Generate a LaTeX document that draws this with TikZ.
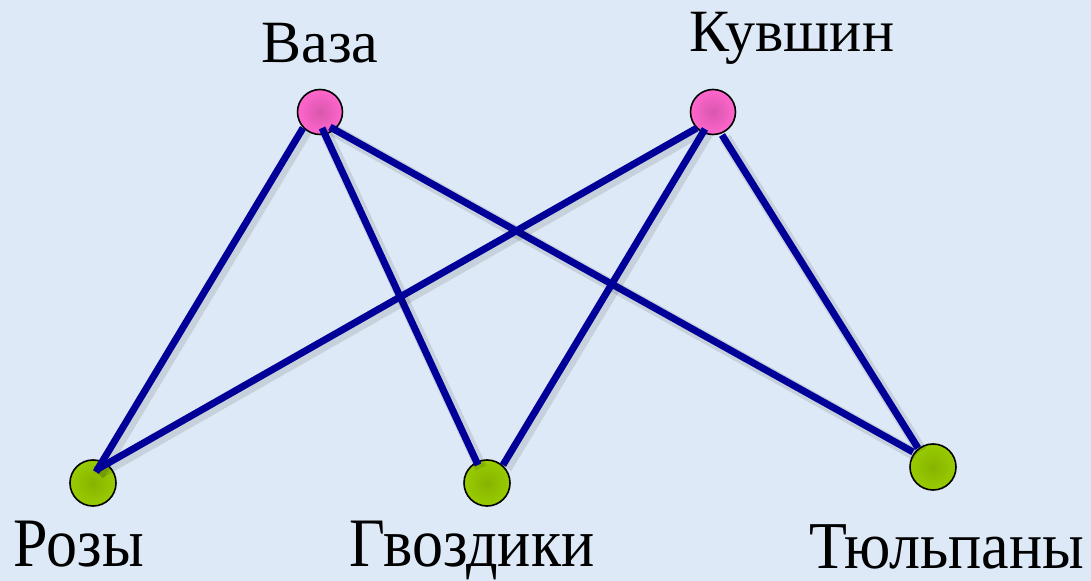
\documentclass[tikz,border=0pt]{standalone}
\usepackage{fontspec}
\setmainfont{Liberation Serif}
\usepackage{graphicx}

\definecolor{bgblue}{HTML}{DDE9F6}
\definecolor{linkblue}{HTML}{000099}
\definecolor{vesselpink}{HTML}{FF66CC}
\definecolor{flowergreen}{HTML}{99CC00}

\tikzset{
  vessel/.style={circle,draw=black,line width=0.8pt,minimum size=22.5pt,inner sep=0pt,
    inner color=vesselpink!85!black,outer color=vesselpink},
  flower/.style={circle,draw=black,line width=0.8pt,minimum size=23pt,inner sep=0pt,
    inner color=flowergreen!88!black,outer color=flowergreen},
  link/.style={linkblue,line width=3.5pt,
    preaction={draw=black,opacity=0.1,line width=6pt,transform canvas={xshift=1.5pt,yshift=-1.5pt}}},
  vessellabel/.style={anchor=base,inner sep=0pt,font=\fontsize{30}{36}\selectfont},
  flowerlabel/.style={anchor=base,inner sep=0pt,font=\fontsize{31}{37}\selectfont},
}

\begin{document}
\begin{tikzpicture}[x=0.5pt,y=-0.5pt]
\fill[bgblue] (0,0) rectangle (1091,581);
\useasboundingbox (0,0) rectangle (1091,581);

\node[vessel] (vase) at (320,112) {};
\node[vessel] (jug) at (713,112) {};
\node[flower] (roses) at (93,483) {};
\node[flower] (carnations) at (487,483) {};
\node[flower] (tulips) at (933,467) {};

\node[vessellabel] (vaselabel) at (320,63) {Ваза};
\node[vessellabel] (juglabel) at (792,52) {Кувшин};
\node[flowerlabel] (roseslabel) at (79,567) {\scalebox{1}[1.12]{Розы}};
\node[flowerlabel] (carnationslabel) at (472,567) {\scalebox{1}[1.12]{Гвоздики}};
\node[flowerlabel] (tulipslabel) at (947,569) {\scalebox{1}[1.08]{Тюльпаны}};

\draw[link] ([shift={(-17,16)}]vase.center) -- ([shift={(3,-11)}]roses.center);
\draw[link] ([shift={(2,16)}]vase.center) -- ([shift={(-9,-18)}]carnations.center);
\draw[link] ([shift={(10,15)}]vase.center) -- ([shift={(-20,-15)}]tulips.center);
\draw[link] ([shift={(-16,16)}]jug.center) -- ([shift={(3,-13)}]roses.center);
\draw[link] ([shift={(-8,17)}]jug.center) -- ([shift={(16,-18)}]carnations.center);
\draw[link] ([shift={(9,23)}]jug.center) -- ([shift={(-15,-19)}]tulips.center);
\end{tikzpicture}
\end{document}
